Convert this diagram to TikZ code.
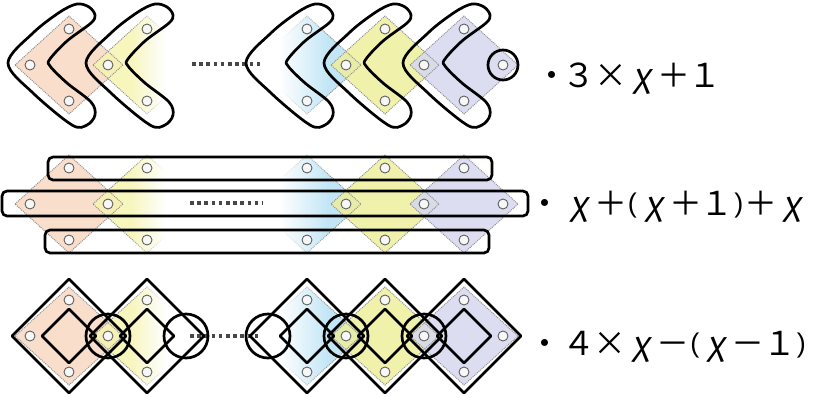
\documentclass[tikz,border=0pt]{standalone}
\usepackage{fontspec}
\newfontfamily\jp{Noto Sans CJK JP}
\newfontfamily\jpsl[FakeSlant=0.18]{Noto Sans CJK JP}
\newfontfamily\parenfont{Liberation Sans}
\usetikzlibrary{fadings}

\definecolor{tileA}{HTML}{F7D8C2}
\definecolor{tileB}{HTML}{F6F4B0}
\definecolor{tileC}{HTML}{B8E2F5}
\definecolor{tileD}{HTML}{EDEF9C}
\definecolor{tileE}{HTML}{D6D7EF}

\newlength\cellw
\newcommand\fc[1]{\makebox[\cellw][c]{#1}}
\newcommand\pc[1]{\makebox[12pt][c]{\raisebox{3pt}{\parenfont\fontsize{27}{30}\selectfont #1}}}
\newcommand\vx{{\jpsl χ}}

\tikzset{
  x=1pt, y=-1pt,
  tilefill/.style={fill=#1, fill opacity=0.85},
  tileedge/.style={draw=gray!85, line width=1pt, densely dotted},
  pin/.style={draw=gray!75!black, line width=0.9pt, fill=gray!6},
  ink/.style={draw=black, line width=2.7pt, line join=round},
  gapdots/.style={draw=black!72, line width=3.6pt, dash pattern=on 3.6pt off 3.6pt},
  formula/.style={anchor=base west, inner sep=0pt, font=\jp\fontsize{33}{40}\selectfont},
}

\begin{document}
\begin{tikzpicture}
\useasboundingbox (0,0) rectangle (817,397);

% coloured tiles in three rows
\foreach \cy in {65,204,336} {
  \foreach \cx/\col in {69/tileA,147/tileB,307/tileC,385/tileD,464/tileE}
    \fill[tilefill=\col] (\cx-54,\cy) -- (\cx,\cy-49) -- (\cx+54,\cy) -- (\cx,\cy+49) -- cycle;
  \foreach \cx in {69,147,307,385,464}
    \draw[tileedge] (\cx-54,\cy) -- (\cx,\cy-49) -- (\cx+54,\cy) -- (\cx,\cy+49) -- cycle;
}

% the gap between the second and third tile fades to white
\fill[white, path fading=west] (130,0) rectangle (165,397);
\fill[white] (165,0) rectangle (280,397);
\fill[white, path fading=east] (280,0) rectangle (328,397);

% pins on the tiles
\foreach \cy in {65,204,336} {
  \foreach \px/\dy in {30/0,69/-36,69/36,108/0,147/-36,147/36,307/-36,307/36,346/0,385/-36,385/36,424/0,464/-36,464/36,503/0}
    \draw[pin] (\px,\cy+\dy) circle[radius=5pt];
}

% dotted gaps
\draw[gapdots] (192,64) -- (263,64);
\draw[gapdots] (190,203) -- (263,203);
\draw[gapdots] (190,336) -- (260,336);

% row 1: chevrons round three pins of each tile, and one extra pin
\foreach \cx in {69,147,307,385,464}
  \draw[ink] plot[smooth cycle, tension=0.55] coordinates {
    (\cx-61,63) (\cx-36,33) (\cx-9,12) (\cx+8,4) (\cx+20,7) (\cx+26,15) (\cx+22,23)
    (\cx-2,41) (\cx-19,59) (\cx-19,66) (\cx-2,83) (\cx+22,102) (\cx+26,115)
    (\cx+18,125) (\cx+3,125) (\cx-36,93)};
\draw[ink] (503,65) circle[radius=15pt];

% row 2: three long bars
\draw[ink, rounded corners=5pt] (48,157) rectangle (492,180);
\draw[ink, rounded corners=5pt] (2,191) rectangle (528,216);
\draw[ink, rounded corners=5pt] (45,230) rectangle (489,253);

% row 3: big and small squares, circles on the shared pins
\foreach \cx in {69,147,307,385,464} {
  \draw[ink] (\cx-57,336) -- (\cx,279) -- (\cx+57,336) -- (\cx,393) -- cycle;
  \draw[ink] (\cx-27,336) -- (\cx,309) -- (\cx+27,336) -- (\cx,363) -- cycle;
}
\foreach \px in {108,186,268,346,424}
  \draw[ink] (\px,336) circle[radius=22pt];

% formulas
\setlength\cellw{31.5pt}
\node[formula] (f1) at (540.75,87) {\makebox[22.5pt][c]{・}\fc{３}\fc{×}\fc{\vx}\fc{＋}\fc{１}};
\node[formula] (f2) at (526.75,215) {\makebox[36.5pt][c]{・}\fc{\vx}\fc{＋}\pc{(}\fc{\vx}\fc{＋}\fc{１}\pc{)}\fc{＋}\fc{\vx}};
\node[formula] (f3) at (527.25,355) {\makebox[35.5pt][c]{・}\fc{４}\fc{×}\fc{\vx}\fc{－}\pc{(}\fc{\vx}\fc{－}\fc{１}\pc{)}};
\end{tikzpicture}
\end{document}
